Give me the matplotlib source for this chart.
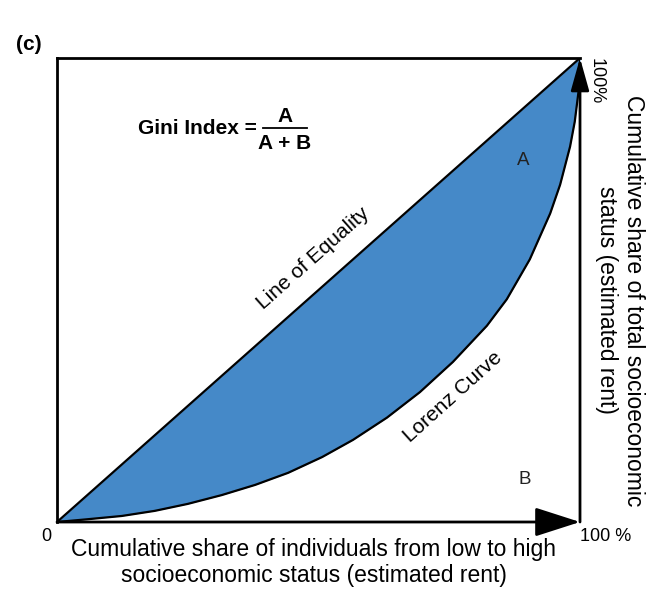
import numpy as np
import matplotlib.pyplot as plt

plt.rcParams['font.family'] = ['Liberation Sans', 'DejaVu Sans']

# Lorenz curve (cumulative share of people, share of rent)
pop_share = [0.0, 0.059, 0.124, 0.187, 0.250, 0.315, 0.379, 0.442, 0.507, 0.566, 0.631,
             0.694, 0.757, 0.822, 0.860, 0.904, 0.943, 0.962, 0.981, 0.990, 0.998, 1.0]
rent_share = [0.0, 0.006, 0.013, 0.024, 0.039, 0.058, 0.080, 0.106, 0.140, 0.177, 0.225,
              0.280, 0.345, 0.423, 0.480, 0.566, 0.665, 0.727, 0.809, 0.863, 0.935, 1.0]
equality = [0.0, 1.0]

fig = plt.figure(figsize=(6.61, 5.92), dpi=100)
ax = fig.add_axes([57 / 661, 70 / 592, 523 / 661, 464 / 592])
ax.set_xlim(0, 1)
ax.set_ylim(0, 1)
ax.axis('off')

# blue area between equality line and Lorenz curve
eq_on_x = np.interp(pop_share, equality, equality)
ax.fill_between(pop_share, rent_share, eq_on_x, color='#4589c8', lw=0)
ax.plot(equality, equality, color='black', lw=1.6)
ax.plot(pop_share, rent_share, color='black', lw=1.6, solid_joinstyle='round')

# box: top and left plain, bottom and right as arrows
ax.plot([0, 1], [1, 1], color='black', lw=2, clip_on=False)
ax.plot([0, 0], [0, 1], color='black', lw=2, clip_on=False)
ax.annotate('', xy=(1, 0), xytext=(0, 0),
            arrowprops=dict(arrowstyle='-|>,head_length=1.4,head_width=0.45',
                            lw=2, color='black', shrinkA=0, shrinkB=0, mutation_scale=20))
ax.annotate('', xy=(1, 1), xytext=(1, 0),
            arrowprops=dict(arrowstyle='-|>,head_length=1.0,head_width=0.28',
                            lw=2, color='black', shrinkA=0, shrinkB=0, mutation_scale=20))

# formula
ax.text(0.382, 0.849, 'Gini Index =', fontsize=15, fontweight='bold', ha='right', va='center')
ax.text(0.436, 0.875, 'A', fontsize=15, fontweight='bold', ha='center', va='center')
ax.text(0.436, 0.815, 'A + B', fontsize=15, fontweight='bold', ha='center', va='center')
ax.plot([0.394, 0.478], [0.849, 0.849], color='black', lw=1.3)

ax.text(0.891, 0.780, 'A', fontsize=13.5, ha='center', va='center', color='#222222')
ax.text(0.895, 0.091, 'B', fontsize=13.5, ha='center', va='center', color='#222222')

ang = np.degrees(np.arctan2(464, 523))
ax.text(0.489, 0.569, 'Line of Equality', fontsize=15, rotation=ang,
        rotation_mode='anchor', ha='center', va='center')
ax.text(0.757, 0.269, 'Lorenz Curve', fontsize=15, rotation=42,
        rotation_mode='anchor', ha='center', va='center')

# axis end labels
ax.text(-0.021, -0.032, '0', fontsize=13, ha='center', va='center')
ax.text(1.0, -0.032, '100 %', fontsize=13, ha='left', va='center')
ax.text(1.014, 1.0, '100%', fontsize=13, rotation=270, ha='left', va='top')

ax.text(0.491, -0.034, 'Cumulative share of individuals from low to high\nsocioeconomic status (estimated rent)',
        fontsize=16.5, ha='center', va='top')
# right label, one text per line
ax.text(1.103, 0.478, 'Cumulative share of total socioeconomic',
        fontsize=16.5, rotation=270, ha='center', va='center')
ax.text(1.050, 0.478, 'status (estimated rent)',
        fontsize=16.5, rotation=270, ha='center', va='center')

fig.text(29 / 661, 1 - 45 / 592, '(c)', fontsize=15, fontweight='bold', ha='center', va='center')

fig.savefig('out.png', dpi=100)
